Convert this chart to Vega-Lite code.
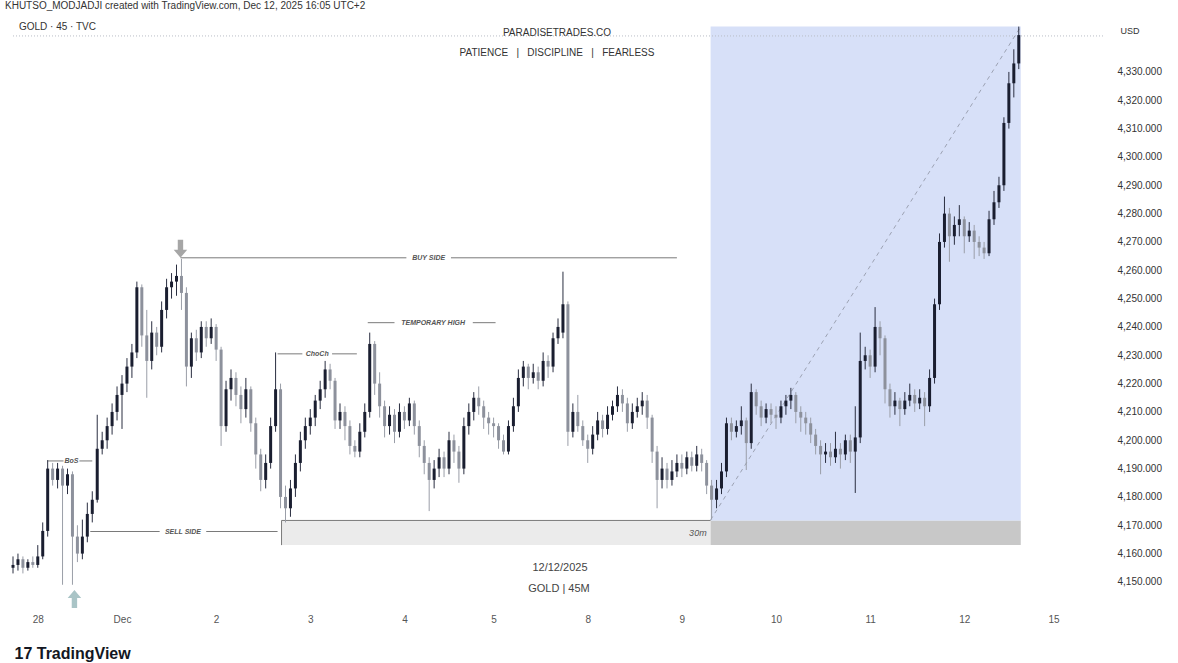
{
  "$schema": "https://vega.github.io/schema/vega-lite/v6.json",
  "width": 1100,
  "height": 595,
  "autosize": {"type": "none"},
  "padding": {"left": 8, "top": 13, "right": 70, "bottom": 55},
  "background": "white",
  "config": {
    "view": {"stroke": null},
    "font": "Liberation Sans",
    "axis": {"labelFont": "Liberation Sans", "titleFont": "Liberation Sans"}
  },
  "title": {
    "text": "KHUTSO_MODJADJI created with TradingView.com, Dec 12, 2025 16:05 UTC+2",
    "anchor": "start", "frame": "group", "dx": -3, "offset": 2,
    "fontSize": 10, "fontWeight": "normal", "color": "#333333", "font": "Liberation Sans"
  },
  "datasets": {
    "candles": [
      {"i":0,"o":4155,"h":4159,"l":4153,"c":4156},{"i":1,"o":4156,"h":4160,"l":4154,"c":4158},{"i":2,"o":4158,"h":4159,"l":4153,"c":4155},{"i":3,"o":4155,"h":4158,"l":4154,"c":4157},{"i":4,"o":4157,"h":4159,"l":4155,"c":4156},
      {"i":5,"o":4156,"h":4163,"l":4155,"c":4159},{"i":6,"o":4159,"h":4171,"l":4158,"c":4168},{"i":7,"o":4168,"h":4193,"l":4166,"c":4190},{"i":8,"o":4190,"h":4192,"l":4184,"c":4186},{"i":9,"o":4186,"h":4192,"l":4183,"c":4190},
      {"i":10,"o":4190,"h":4191,"l":4149,"c":4184},{"i":11,"o":4184,"h":4190,"l":4181,"c":4188},{"i":12,"o":4188,"h":4189,"l":4149,"c":4166},{"i":13,"o":4166,"h":4170,"l":4157,"c":4160},{"i":14,"o":4160,"h":4172,"l":4158,"c":4166},
      {"i":15,"o":4166,"h":4178,"l":4164,"c":4174},{"i":16,"o":4174,"h":4182,"l":4171,"c":4179},{"i":17,"o":4179,"h":4209,"l":4178,"c":4197},{"i":18,"o":4197,"h":4203,"l":4195,"c":4200},{"i":19,"o":4200,"h":4208,"l":4197,"c":4205},
      {"i":20,"o":4205,"h":4213,"l":4202,"c":4210},{"i":21,"o":4210,"h":4219,"l":4207,"c":4216},{"i":22,"o":4216,"h":4223,"l":4204,"c":4220},{"i":23,"o":4220,"h":4229,"l":4217,"c":4226},{"i":24,"o":4226,"h":4234,"l":4222,"c":4231},
      {"i":25,"o":4231,"h":4256,"l":4229,"c":4254},{"i":26,"o":4254,"h":4255,"l":4233,"c":4237},{"i":27,"o":4237,"h":4246,"l":4215,"c":4228},{"i":28,"o":4228,"h":4242,"l":4225,"c":4238},{"i":29,"o":4238,"h":4240,"l":4230,"c":4233},
      {"i":30,"o":4233,"h":4249,"l":4231,"c":4246},{"i":31,"o":4246,"h":4257,"l":4243,"c":4254},{"i":32,"o":4254,"h":4259,"l":4250,"c":4256},{"i":33,"o":4256,"h":4262,"l":4251,"c":4258},{"i":34,"o":4258,"h":4264,"l":4246,"c":4252},
      {"i":35,"o":4252,"h":4254,"l":4219,"c":4226},{"i":36,"o":4226,"h":4238,"l":4222,"c":4236},{"i":37,"o":4236,"h":4239,"l":4228,"c":4231},{"i":38,"o":4231,"h":4242,"l":4229,"c":4240},{"i":39,"o":4240,"h":4242,"l":4233,"c":4236},
      {"i":40,"o":4236,"h":4243,"l":4234,"c":4240},{"i":41,"o":4240,"h":4241,"l":4228,"c":4232},{"i":42,"o":4232,"h":4233,"l":4198,"c":4205},{"i":43,"o":4205,"h":4221,"l":4203,"c":4218},{"i":44,"o":4218,"h":4225,"l":4214,"c":4222},
      {"i":45,"o":4222,"h":4224,"l":4212,"c":4216},{"i":46,"o":4216,"h":4219,"l":4206,"c":4211},{"i":47,"o":4211,"h":4222,"l":4208,"c":4218},{"i":48,"o":4218,"h":4219,"l":4203,"c":4206},{"i":49,"o":4206,"h":4208,"l":4190,"c":4195},
      {"i":50,"o":4195,"h":4197,"l":4182,"c":4186},{"i":51,"o":4186,"h":4195,"l":4183,"c":4192},{"i":52,"o":4192,"h":4208,"l":4190,"c":4205},{"i":53,"o":4205,"h":4231,"l":4203,"c":4218},{"i":54,"o":4218,"h":4220,"l":4176,"c":4180},
      {"i":55,"o":4180,"h":4184,"l":4171,"c":4176},{"i":56,"o":4176,"h":4186,"l":4173,"c":4183},{"i":57,"o":4183,"h":4195,"l":4180,"c":4192},{"i":58,"o":4192,"h":4203,"l":4189,"c":4200},{"i":59,"o":4200,"h":4208,"l":4197,"c":4205},
      {"i":60,"o":4205,"h":4211,"l":4202,"c":4208},{"i":61,"o":4208,"h":4216,"l":4205,"c":4214},{"i":62,"o":4214,"h":4221,"l":4211,"c":4218},{"i":63,"o":4218,"h":4228,"l":4215,"c":4225},{"i":64,"o":4225,"h":4227,"l":4218,"c":4221},
      {"i":65,"o":4221,"h":4222,"l":4204,"c":4207},{"i":66,"o":4207,"h":4213,"l":4204,"c":4210},{"i":67,"o":4210,"h":4212,"l":4200,"c":4205},{"i":68,"o":4205,"h":4207,"l":4195,"c":4198},{"i":69,"o":4198,"h":4200,"l":4194,"c":4196},
      {"i":70,"o":4196,"h":4206,"l":4194,"c":4203},{"i":71,"o":4203,"h":4213,"l":4201,"c":4210},{"i":72,"o":4210,"h":4238,"l":4208,"c":4234},{"i":73,"o":4234,"h":4235,"l":4216,"c":4220},{"i":74,"o":4220,"h":4224,"l":4208,"c":4212},
      {"i":75,"o":4212,"h":4214,"l":4201,"c":4205},{"i":76,"o":4205,"h":4212,"l":4202,"c":4209},{"i":77,"o":4209,"h":4211,"l":4199,"c":4203},{"i":78,"o":4203,"h":4213,"l":4201,"c":4210},{"i":79,"o":4210,"h":4212,"l":4204,"c":4207},
      {"i":80,"o":4207,"h":4215,"l":4205,"c":4213},{"i":81,"o":4213,"h":4214,"l":4202,"c":4205},{"i":82,"o":4205,"h":4207,"l":4194,"c":4198},{"i":83,"o":4198,"h":4200,"l":4188,"c":4192},{"i":84,"o":4192,"h":4194,"l":4175,"c":4186},
      {"i":85,"o":4186,"h":4193,"l":4183,"c":4190},{"i":86,"o":4190,"h":4197,"l":4187,"c":4194},{"i":87,"o":4194,"h":4196,"l":4187,"c":4190},{"i":88,"o":4190,"h":4203,"l":4188,"c":4200},{"i":89,"o":4200,"h":4202,"l":4192,"c":4196},
      {"i":90,"o":4196,"h":4198,"l":4185,"c":4190},{"i":91,"o":4190,"h":4208,"l":4188,"c":4205},{"i":92,"o":4205,"h":4213,"l":4202,"c":4210},{"i":93,"o":4210,"h":4217,"l":4207,"c":4215},{"i":94,"o":4215,"h":4219,"l":4209,"c":4212},
      {"i":95,"o":4212,"h":4214,"l":4204,"c":4208},{"i":96,"o":4208,"h":4210,"l":4202,"c":4206},{"i":97,"o":4206,"h":4208,"l":4201,"c":4205},{"i":98,"o":4205,"h":4206,"l":4197,"c":4200},{"i":99,"o":4200,"h":4202,"l":4195,"c":4196},
      {"i":100,"o":4196,"h":4207,"l":4195,"c":4205},{"i":101,"o":4205,"h":4215,"l":4203,"c":4212},{"i":102,"o":4212,"h":4225,"l":4210,"c":4222},{"i":103,"o":4222,"h":4228,"l":4219,"c":4226},{"i":104,"o":4226,"h":4227,"l":4218,"c":4222},
      {"i":105,"o":4222,"h":4227,"l":4220,"c":4224},{"i":106,"o":4224,"h":4226,"l":4218,"c":4221},{"i":107,"o":4221,"h":4231,"l":4219,"c":4228},{"i":108,"o":4228,"h":4230,"l":4222,"c":4226},{"i":109,"o":4226,"h":4238,"l":4224,"c":4236},
      {"i":110,"o":4236,"h":4243,"l":4234,"c":4240},{"i":111,"o":4238,"h":4259.5,"l":4236,"c":4248},{"i":112,"o":4248,"h":4249,"l":4198,"c":4203},{"i":113,"o":4203,"h":4213,"l":4201,"c":4210},{"i":114,"o":4210,"h":4216,"l":4203,"c":4205},
      {"i":115,"o":4205,"h":4207,"l":4198,"c":4200},{"i":116,"o":4200,"h":4202,"l":4192,"c":4197},{"i":117,"o":4197,"h":4205,"l":4195,"c":4202},{"i":118,"o":4202,"h":4210,"l":4200,"c":4207},{"i":119,"o":4207,"h":4209,"l":4201,"c":4204},
      {"i":120,"o":4204,"h":4212,"l":4202,"c":4209},{"i":121,"o":4209,"h":4214,"l":4207,"c":4212},{"i":122,"o":4212,"h":4219,"l":4210,"c":4216},{"i":123,"o":4216,"h":4218,"l":4210,"c":4213},{"i":124,"o":4213,"h":4215,"l":4203,"c":4206},
      {"i":125,"o":4206,"h":4213,"l":4204,"c":4210},{"i":126,"o":4210,"h":4215,"l":4208,"c":4212},{"i":127,"o":4212,"h":4217,"l":4209,"c":4214},{"i":128,"o":4214,"h":4216,"l":4204,"c":4208},{"i":129,"o":4208,"h":4209,"l":4192,"c":4196},
      {"i":130,"o":4196,"h":4198,"l":4176,"c":4186},{"i":131,"o":4186,"h":4194,"l":4183,"c":4190},{"i":132,"o":4190,"h":4192,"l":4183,"c":4186},{"i":133,"o":4186,"h":4193,"l":4184,"c":4189},{"i":134,"o":4189,"h":4195,"l":4187,"c":4192},
      {"i":135,"o":4192,"h":4195,"l":4187,"c":4190},{"i":136,"o":4190,"h":4196,"l":4188,"c":4194},{"i":137,"o":4194,"h":4196,"l":4189,"c":4191},{"i":138,"o":4191,"h":4198,"l":4189,"c":4195},{"i":139,"o":4195,"h":4197,"l":4189,"c":4192},
      {"i":140,"o":4192,"h":4193,"l":4181,"c":4184},{"i":141,"o":4184,"h":4186,"l":4172,"c":4179},{"i":142,"o":4179,"h":4186,"l":4176,"c":4183},{"i":143,"o":4183,"h":4192,"l":4181,"c":4189},{"i":144,"o":4189,"h":4208,"l":4187,"c":4206},
      {"i":145,"o":4206,"h":4208,"l":4200,"c":4203},{"i":146,"o":4203,"h":4207,"l":4201,"c":4205},{"i":147,"o":4205,"h":4212,"l":4202,"c":4207},{"i":148,"o":4207,"h":4208,"l":4189.5,"c":4199},{"i":149,"o":4199,"h":4220,"l":4197,"c":4217},
      {"i":150,"o":4217,"h":4218,"l":4209,"c":4212},{"i":151,"o":4212,"h":4214,"l":4205,"c":4208},{"i":152,"o":4208,"h":4213,"l":4206,"c":4211},{"i":153,"o":4211,"h":4213,"l":4206,"c":4209},{"i":154,"o":4209,"h":4212,"l":4204,"c":4208},
      {"i":155,"o":4208,"h":4214,"l":4206,"c":4212},{"i":156,"o":4212,"h":4216,"l":4209,"c":4214},{"i":157,"o":4214,"h":4218.5,"l":4211,"c":4216},{"i":158,"o":4216,"h":4217,"l":4206,"c":4210},{"i":159,"o":4210,"h":4212,"l":4203,"c":4208},
      {"i":160,"o":4208,"h":4210,"l":4202,"c":4206},{"i":161,"o":4206,"h":4208,"l":4199,"c":4202},{"i":162,"o":4202,"h":4204,"l":4195,"c":4198},{"i":163,"o":4198,"h":4200,"l":4188,"c":4195},{"i":164,"o":4195,"h":4199,"l":4192,"c":4196},
      {"i":165,"o":4196,"h":4199,"l":4191,"c":4194},{"i":166,"o":4194,"h":4203,"l":4192,"c":4197},{"i":167,"o":4197,"h":4199,"l":4190,"c":4195},{"i":168,"o":4195,"h":4202,"l":4193,"c":4200},{"i":169,"o":4200,"h":4202,"l":4192,"c":4196},
      {"i":170,"o":4196,"h":4212,"l":4181.4,"c":4201},{"i":171,"o":4201,"h":4238,"l":4199,"c":4228},{"i":172,"o":4228,"h":4233,"l":4225,"c":4230},{"i":173,"o":4230,"h":4232,"l":4222,"c":4226},{"i":174,"o":4226,"h":4247,"l":4224,"c":4240},
      {"i":175,"o":4240,"h":4242,"l":4230,"c":4236},{"i":176,"o":4236,"h":4237,"l":4213,"c":4218},{"i":177,"o":4218,"h":4220,"l":4208,"c":4212},{"i":178,"o":4212,"h":4217,"l":4209,"c":4214},{"i":179,"o":4214,"h":4215,"l":4205,"c":4211},
      {"i":180,"o":4211,"h":4217,"l":4209,"c":4214},{"i":181,"o":4214,"h":4220,"l":4212,"c":4216},{"i":182,"o":4216,"h":4218,"l":4210,"c":4213},{"i":183,"o":4213,"h":4218,"l":4211,"c":4215},{"i":184,"o":4215,"h":4217,"l":4205,"c":4212},
      {"i":185,"o":4212,"h":4225,"l":4210,"c":4222},{"i":186,"o":4222,"h":4250,"l":4220,"c":4248},{"i":187,"o":4248,"h":4273,"l":4246,"c":4270},{"i":188,"o":4270,"h":4286,"l":4268,"c":4280},{"i":189,"o":4280,"h":4282,"l":4263,"c":4272},
      {"i":190,"o":4272,"h":4279,"l":4269,"c":4276},{"i":191,"o":4276,"h":4283,"l":4272,"c":4278},{"i":192,"o":4278,"h":4279,"l":4266,"c":4272},{"i":193,"o":4272,"h":4277,"l":4270,"c":4274},{"i":194,"o":4274,"h":4276,"l":4264,"c":4270},
      {"i":195,"o":4270,"h":4272,"l":4265,"c":4268},{"i":196,"o":4268,"h":4270,"l":4264,"c":4266},{"i":197,"o":4266,"h":4281,"l":4265,"c":4278},{"i":198,"o":4278,"h":4288,"l":4276,"c":4284},{"i":199,"o":4284,"h":4293,"l":4282,"c":4290},
      {"i":200,"o":4290,"h":4314,"l":4288,"c":4312},{"i":201,"o":4312,"h":4330,"l":4310,"c":4326},{"i":202,"o":4326,"h":4338,"l":4321,"c":4333},{"i":203,"o":4333,"h":4346,"l":4331,"c":4343}
    ],
    "zones": [
      {"x": 140.8, "x2": 203.4, "y": 4171.6, "y2": 4346, "zone": "range"}
    ],
    "boxes": [
      {"x": 54.2, "x2": 140.8, "y": 4163, "y2": 4171.6, "part": "before"},
      {"x": 140.8, "x2": 203.4, "y": 4163, "y2": 4171.6, "part": "after"}
    ],
    "annlines": [
      {"x": 33.8, "x2": 79.4, "y": 4264.4, "y2": 4264.4},
      {"x": 88.4, "x2": 134, "y": 4264.4, "y2": 4264.4},
      {"x": 71.6, "x2": 77, "y": 4241.5, "y2": 4241.5},
      {"x": 92.8, "x2": 97.4, "y": 4241.5, "y2": 4241.5},
      {"x": 53.4, "x2": 58.4, "y": 4230.5, "y2": 4230.5},
      {"x": 64.4, "x2": 69.4, "y": 4230.5, "y2": 4230.5},
      {"x": 7, "x2": 10.2, "y": 4192.7, "y2": 4192.7},
      {"x": 13.4, "x2": 16, "y": 4192.7, "y2": 4192.7},
      {"x": 15.6, "x2": 29.6, "y": 4167.8, "y2": 4167.8},
      {"x": 39, "x2": 53.4, "y": 4167.8, "y2": 4167.8},
      {"x": 54.2, "x2": 140.8, "y": 4171.7, "y2": 4171.7},
      {"x": 54.2, "x2": 54.2, "y": 4163, "y2": 4171.7}
    ],
    "priceline": [
      {"x": 0, "x2": 220, "y": 4342.7, "y2": 4342.7}
    ],
    "diag": [
      {"x": 140.8, "x2": 203.4, "y": 4171.9, "y2": 4346}
    ],
    "annlabels": [
      {"x": 83.9, "y": 4264.4, "text": "BUY SIDE"},
      {"x": 84.8, "y": 4241.5, "text": "TEMPORARY HIGH"},
      {"x": 61.4, "y": 4230.5, "text": "ChoCh"},
      {"x": 11.8, "y": 4192.7, "text": "BoS"},
      {"x": 34.3, "y": 4167.8, "text": "SELL SIDE"}
    ],
    "watermark": [
      {"x": 109.8, "y": 4343.8, "text": "PARADISETRADES.CO"},
      {"x": 109.8, "y": 4336.7, "text": "PATIENCE \u00a0 | \u00a0 DISCIPLINE \u00a0 | \u00a0 FEARLESS"}
    ],
    "footer": [
      {"x": 110.4, "y": 4154.9, "text": "12/12/2025"},
      {"x": 110.2, "y": 4147.5, "text": "GOLD | 45M"}
    ],
    "symbol": [
      {"x": 1.2, "y": 4346, "text": "GOLD · 45 · TVC"}
    ],
    "tf": [
      {"x": 140, "y": 4167.4, "text": "30m"}
    ],
    "arrowdown": [{"x": 33.8, "y": 4267.6}],
    "arrowup": [{"x": 12.4, "y": 4144}]
  },
  "encoding": {
    "x": {
      "field": "x", "type": "quantitative",
      "scale": {"domain": [0, 220], "nice": false, "zero": false},
      "axis": {
        "orient": "bottom",
        "values": [5, 22, 41, 60, 79, 97, 116, 135, 154, 173, 192, 210],
        "labelExpr": "['28','Dec','2','3','4','5','8','9','10','11','12','15'][indexof([5,22,41,60,79,97,116,135,154,173,192,210], datum.value)]",
        "ticks": false, "domain": false, "grid": false,
        "labelFontSize": 10, "labelColor": "#555555", "labelPadding": 6,
        "labelOverlap": false, "labelFlush": false,
        "title": "17 TradingView", "titleX": 6, "titleY": 45,
        "titleAlign": "left", "titleBaseline": "middle", "titleAnchor": "start",
        "titleFontSize": 16, "titleFontWeight": "bold", "titleColor": "#131722"
      }
    },
    "y": {
      "field": "y", "type": "quantitative",
      "scale": {"domain": [4140.8, 4350.8], "nice": false, "zero": false},
      "axis": {
        "orient": "right",
        "values": [4150, 4160, 4170, 4180, 4190, 4200, 4210, 4220, 4230, 4240, 4250, 4260, 4270, 4280, 4290, 4300, 4310, 4320, 4330],
        "format": ",.3f",
        "ticks": false, "domain": false, "grid": false,
        "labelFontSize": 10, "labelColor": "#333333", "labelPadding": 9,
        "title": "USD", "titleAngle": 0, "titleX": 12, "titleY": 17,
        "titleAlign": "left", "titleBaseline": "middle",
        "titleFontSize": 9, "titleFontWeight": "normal", "titleColor": "#333333"
      }
    }
  },
  "layer": [
    {
      "data": {"name": "zones"},
      "mark": {"type": "rect", "color": "#d7e0f8"},
      "encoding": {"x2": {"field": "x2"}, "y2": {"field": "y2"}}
    },
    {
      "data": {"name": "boxes"},
      "mark": {"type": "rect"},
      "encoding": {
        "x2": {"field": "x2"}, "y2": {"field": "y2"},
        "color": {"field": "part", "type": "nominal", "scale": {"domain": ["before", "after"], "range": ["#ebebeb", "#c8c8c8"]}, "legend": null}
      }
    },
    {
      "data": {"name": "priceline"},
      "mark": {"type": "rule", "color": "#b9bdc7", "strokeDash": [1, 2], "strokeWidth": 1},
      "encoding": {"x2": {"field": "x2"}, "y2": {"field": "y2"}}
    },
    {
      "data": {"name": "annlines"},
      "mark": {"type": "rule", "color": "#7a7a7a", "strokeWidth": 1},
      "encoding": {"x2": {"field": "x2"}, "y2": {"field": "y2"}}
    },
    {
      "data": {"name": "diag"},
      "mark": {"type": "rule", "color": "#9ca2b3", "strokeDash": [4, 4], "strokeWidth": 1},
      "encoding": {"x2": {"field": "x2"}, "y2": {"field": "y2"}}
    },
    {
      "data": {"name": "candles"},
      "mark": {"type": "rule", "strokeWidth": 1},
      "encoding": {
        "x": {"field": "i", "type": "quantitative"},
        "y": {"field": "l", "type": "quantitative"},
        "y2": {"field": "h"},
        "color": {"condition": {"test": "datum.c >= datum.o", "value": "#2a2e40"}, "value": "#9a9ea8"}
      }
    },
    {
      "data": {"name": "candles"},
      "mark": {"type": "bar", "width": 3},
      "encoding": {
        "x": {"field": "i", "type": "quantitative"},
        "y": {"field": "o", "type": "quantitative"},
        "y2": {"field": "c"},
        "color": {"condition": {"test": "datum.c >= datum.o", "value": "#1a1e30"}, "value": "#8d919c"}
      }
    },
    {
      "data": {"name": "annlabels"},
      "mark": {"type": "text", "font": "Liberation Sans", "fontSize": 7, "fontStyle": "italic", "fontWeight": "bold", "color": "#555555", "align": "center", "baseline": "middle"},
      "encoding": {"text": {"field": "text"}}
    },
    {
      "data": {"name": "watermark"},
      "mark": {"type": "text", "font": "Liberation Sans", "fontSize": 10, "color": "#333333", "align": "center", "baseline": "middle"},
      "encoding": {"text": {"field": "text"}}
    },
    {
      "data": {"name": "footer"},
      "mark": {"type": "text", "font": "Liberation Sans", "fontSize": 11, "color": "#444444", "align": "center", "baseline": "middle"},
      "encoding": {"text": {"field": "text"}}
    },
    {
      "data": {"name": "symbol"},
      "mark": {"type": "text", "font": "Liberation Sans", "fontSize": 10, "color": "#333333", "align": "left", "baseline": "middle"},
      "encoding": {"text": {"field": "text"}}
    },
    {
      "data": {"name": "tf"},
      "mark": {"type": "text", "font": "Liberation Sans", "fontSize": 9, "fontStyle": "italic", "color": "#555555", "align": "right", "baseline": "middle"},
      "encoding": {"text": {"field": "text"}}
    },
    {
      "data": {"name": "arrowdown"},
      "mark": {"type": "point", "filled": true, "size": 324, "opacity": 1, "color": "#a6a6a6", "shape": "M-0.3,-1L0.3,-1L0.3,0.1L0.75,0.1L0,1L-0.75,0.1L-0.3,0.1Z"},
      "encoding": {}
    },
    {
      "data": {"name": "arrowup"},
      "mark": {"type": "point", "filled": true, "size": 324, "opacity": 1, "color": "#a9c4c6", "shape": "M-0.3,1L0.3,1L0.3,-0.1L0.75,-0.1L0,-1L-0.75,-0.1L-0.3,-0.1Z"},
      "encoding": {}
    }
  ]
}
